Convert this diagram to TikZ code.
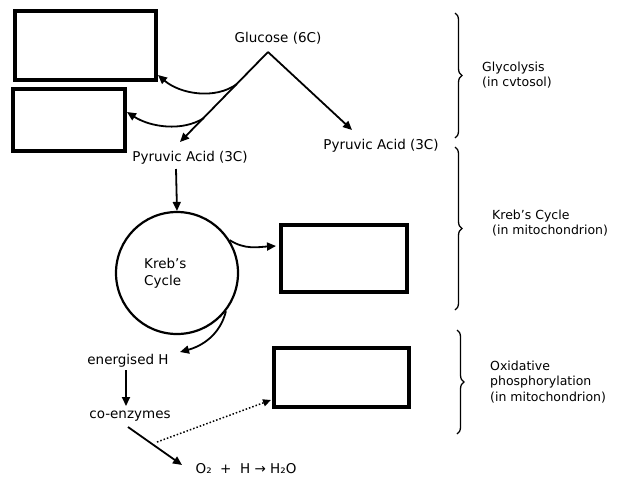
\documentclass[tikz,border=0pt]{standalone}
\usepackage{fontspec}
\setmainfont{DejaVu Sans}
\usetikzlibrary{arrows.meta,decorations.pathreplacing}
\begin{document}
\begin{tikzpicture}[x=1pt,y=-1pt,
  lbl/.style={font=\fontsize{13.5}{17}\selectfont, inner sep=0pt},
  side/.style={font=\fontsize{12.5}{15.5}\selectfont, inner sep=0pt, align=left, anchor=west},
  blank/.style={draw, line width=4pt},
  arr/.style={line width=1.8pt, -{Triangle[length=9pt,width=8pt]}},
  brc/.style={line width=1.3pt, decorate, decoration={brace, amplitude=7pt}}]
\useasboundingbox (0,0) rectangle (617,496);
% blank boxes
\draw[blank] (15,11) rectangle (156,80);
\draw[blank] (13,89) rectangle (125,151);
\draw[blank] (281,225) rectangle (407,292);
\draw[blank] (274,348) rectangle (409,407);
\coordinate (b1in) at (158,75);
\coordinate (b2in) at (127,112);
\coordinate (b3in) at (276,246);
\coordinate (b4in) at (271,400);
% texts
\node[lbl] (glu) at (278,38) {Glucose (6C)};
\coordinate (apex) at (268,52);
\node[lbl] (pyl) at (190,158) {Pyruvic Acid (3C)};
\node[lbl] (pyr) at (381,146) {Pyruvic Acid (3C)};
\coordinate (pylt) at (180,142);
\coordinate (pyrt) at (352,130);
\draw[arr] (apex) -- (pylt);
\draw[arr] (apex) -- (pyrt);
\coordinate (s1) at (237,84);
\coordinate (s2) at (204,118);
\draw[arr] (s1) .. controls (215,100) and (180,94) .. (b1in);
\draw[arr] (s2) .. controls (182,132) and (150,127) .. (b2in);
% Krebs
\node[draw, circle, line width=2.2pt, minimum size=122pt, inner sep=0pt] (kc) at (177,273) {};
\node[lbl, align=left, anchor=west] (kt) at (144,273) {Kreb's\\Cycle};
\draw[arr] (176,169) -- (kc.north);
\draw[arr] (kc.32) .. controls (245,250) and (258,247) .. (b3in);
\coordinate (ehin) at (180,352);
\draw[arr] (kc.-38) .. controls (220,335) and (202,346) .. (ehin);
\node[lbl] (eh) at (128,361) {energised H};
\node[lbl] (co) at (130,416) {co-enzymes};
\draw[arr] (126,370) -- (126,406);
\node[lbl] (ox) at (246,469) {O₂\ \ +\ \ H → H₂O};
\draw[arr] (128,427) -- (182,465);
\coordinate (ds) at (157,442);
\draw[line width=1.5pt, dotted, -{Triangle[length=8pt,width=7pt]}] (ds) -- (b4in);
% braces
\draw[brc] (455,13) -- (455,138);
\draw[brc] (455,147) -- (455,310);
\draw[brc] (457,330) -- (457,434);
\node[side] (g1) at (482,75) {Glycolysis\\(in cvtosol)};
\node[side] (g2) at (492,223) {Kreb's Cycle\\(in mitochondrion)};
\node[side] (g3) at (490,382) {Oxidative\\phosphorylation\\(in mitochondrion)};
\end{tikzpicture}
\end{document}
